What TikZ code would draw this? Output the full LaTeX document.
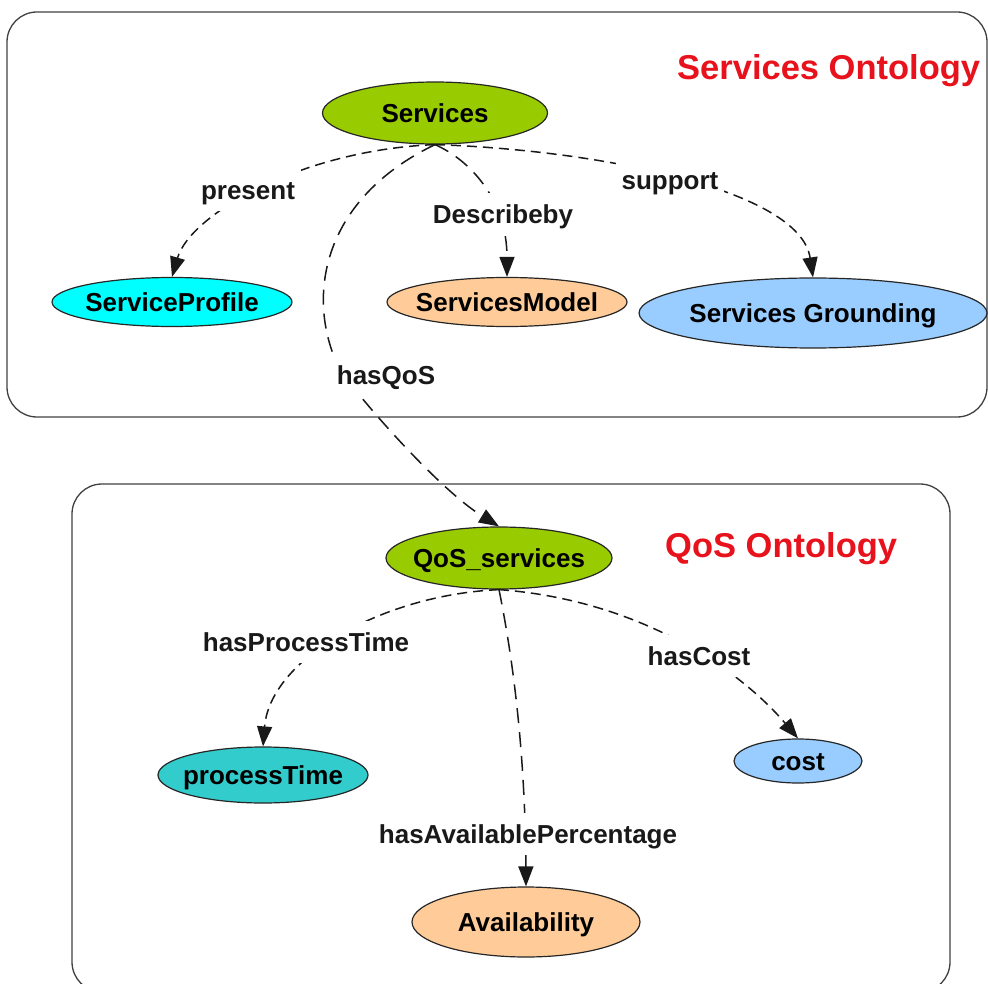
\documentclass[tikz,border=0pt]{standalone}
\usepackage{fontspec}
\setmainfont{Liberation Sans}
\usetikzlibrary{arrows.meta,shapes.geometric}
\definecolor{cgreen}{HTML}{99CC00}
\definecolor{ccyan}{HTML}{00FFFF}
\definecolor{cpeach}{HTML}{FFCC99}
\definecolor{cblue}{HTML}{99CCFF}
\definecolor{cteal}{HTML}{33CCCC}
\definecolor{ored}{RGB}{232,18,28}
\newcommand{\zbox}[1]{\makebox[0pt]{#1}}
\begin{document}
\begin{tikzpicture}[x=1pt,y=-1pt,
  onto/.style={ellipse,draw=black!85,line width=1.2pt,inner sep=0pt,
    font=\bfseries\fontsize{26}{30}\selectfont,text height=18.6pt,text depth=0pt},
  lbl/.style={fill=white,inner xsep=6pt,inner ysep=12pt,text=black!90,
    font=\bfseries\fontsize{26}{30}\selectfont,text height=18.6pt,text depth=0pt},
  rel/.style={draw=black!90,line width=1.5pt,dash pattern=on 10pt off 6pt,
    -{Triangle[length=20pt,width=15pt]}},
  rellong/.style={rel,dash pattern=on 15pt off 9pt},
  box/.style={draw=black!75,line width=1.3pt,rounded corners=30pt},
  title/.style={text=ored,font=\bfseries\fontsize{34.5}{40}\selectfont,
    anchor=base west,inner sep=0pt}]
\useasboundingbox (0,0) rectangle (988,984);
\clip (0,0) rectangle (988,984);
% frames
\draw[box] (7,12) rectangle (987,417);
\draw[box] (72,484) rectangle (950,992);
% titles
\node[title] (t1) at (677,80) {Services Ontology};
\node[title] (t2) at (665,557) {QoS Ontology};
% ontology nodes
\node[onto,fill=cgreen,minimum width=225pt,minimum height=62pt] (services) at (435,113) {\zbox{Services}};
\node[onto,fill=ccyan,minimum width=240pt,minimum height=49pt] (profile) at (172,302) {\zbox{ServiceProfile}};
\node[onto,fill=cpeach,minimum width=240pt,minimum height=49pt] (model) at (507,302) {\zbox{ServicesModel}};
\node[onto,fill=cblue,minimum width=348pt,minimum height=70pt] (grounding) at (813,313) {\zbox{Services Grounding}};
\node[onto,fill=cgreen,minimum width=226pt,minimum height=62pt] (qos) at (499,558) {\zbox{QoS\_services}};
\node[onto,fill=cteal,minimum width=210pt,minimum height=56pt] (ptime) at (263,775) {\zbox{processTime}};
\node[onto,fill=cpeach,minimum width=228pt,minimum height=70pt] (avail) at (526,922) {\zbox{Availability}};
\node[onto,fill=cblue,minimum width=128pt,minimum height=44pt] (cost) at (798,761) {\zbox{cost}};
% connectors
\draw[rel] (services.south) .. controls (300,150) and (190,215) .. (profile.north);
\draw[rellong] (services.south) .. controls (470,160) and (507,200) .. (model.north);
\draw[rel] (services.south) .. controls (600,150) and (800,190) .. (grounding.north);
\draw[rellong] (services.south) .. controls (320,200) and (305,300) .. (340,370)
   .. controls (365,405) and (440,490) .. (qos.north);
\draw[rel] (qos.south) .. controls (380,595) and (270,660) .. (ptime.north);
\draw[rellong] (qos.south) .. controls (505,620) and (525,720) .. (avail.north);
\draw[rel] (qos.south) .. controls (640,600) and (740,670) .. (cost.north);
% connector labels
\node[lbl] (present) at (248,190) {present};
\node[lbl] (describeby) at (503,214) {Describeby};
\node[lbl] (support) at (670,180) {support};
\node[lbl] (hasqos) at (386,375) {hasQoS};
\node[lbl] (hasptime) at (306,642) {hasProcessTime};
\node[lbl] (hascost) at (699,656) {hasCost};
\node[lbl] (hasavail) at (528,834) {hasAvailablePercentage};
\end{tikzpicture}
\end{document}
